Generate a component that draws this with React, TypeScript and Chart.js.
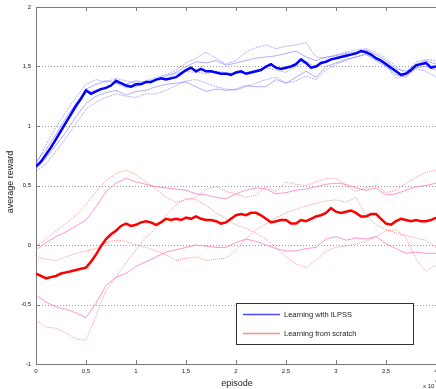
import React, { useEffect, useRef } from 'react';
import { Chart, registerables } from 'chart.js';

Chart.register(...registerables);

// x axis is in units of 10^4 episodes
const MEAN_STEP = 0.05;
const RUN_STEP = 0.1;

const X_TICK_VALUES = [0, 0.5, 1, 1.5, 2, 2.5, 3, 3.5, 4];
const X_TICK_LABELS = ['0', '0,5', '1', '1,5', '2', '2,5', '3', '3,5', '4'];
const Y_TICK_VALUES = [-1, -0.5, 0, 0.5, 1, 1.5, 2];
const Y_TICK_LABELS = ['-1', '-0,5', '0', '0,5', '1', '1,5', '2'];
const Y_GRID_VALUES = [-0.5, 0, 0.5, 1, 1.5];

const SERIES_LABELS = ['Learning with ILPSS', 'Learning from scratch'];

const blueMean = [
  0.66, 0.70, 0.76, 0.82, 0.89, 0.96, 1.03, 1.10, 1.17, 1.23,
  1.30, 1.27, 1.29, 1.31, 1.32, 1.34, 1.38, 1.36, 1.34, 1.33,
  1.35, 1.35, 1.37, 1.37, 1.39, 1.40, 1.39, 1.40, 1.41, 1.44,
  1.47, 1.49, 1.46, 1.48, 1.46, 1.46, 1.45, 1.44, 1.44, 1.43,
  1.45, 1.46, 1.44, 1.45, 1.46, 1.47, 1.50, 1.52, 1.49, 1.48,
  1.49, 1.50, 1.52, 1.56, 1.53, 1.49, 1.50, 1.53, 1.54, 1.56,
  1.57, 1.58, 1.59, 1.60, 1.61, 1.63, 1.62, 1.60, 1.57, 1.55,
  1.52, 1.49, 1.46, 1.43, 1.44, 1.47, 1.51, 1.52, 1.53, 1.49,
  1.50,
];

const redMean = [
  -0.24, -0.26, -0.28, -0.27, -0.26, -0.24, -0.23, -0.22, -0.21, -0.20,
  -0.19, -0.14, -0.08, -0.01, 0.05, 0.09, 0.12, 0.16, 0.18, 0.16,
  0.17, 0.19, 0.20, 0.19, 0.17, 0.19, 0.22, 0.21, 0.22, 0.21,
  0.23, 0.22, 0.24, 0.22, 0.21, 0.21, 0.20, 0.18, 0.19, 0.22,
  0.25, 0.26, 0.25, 0.27, 0.27, 0.25, 0.22, 0.19, 0.20, 0.21,
  0.21, 0.18, 0.18, 0.21, 0.20, 0.22, 0.24, 0.25, 0.27, 0.31,
  0.28, 0.27, 0.28, 0.29, 0.27, 0.24, 0.24, 0.26, 0.26, 0.22,
  0.18, 0.17, 0.20, 0.22, 0.21, 0.20, 0.21, 0.20, 0.20, 0.21,
  0.23,
];

const blueRun1 = [0.68, 0.84, 0.99, 1.12, 1.24, 1.35, 1.39, 1.37, 1.40, 1.38, 1.36, 1.38, 1.41, 1.43, 1.47, 1.53, 1.57, 1.62, 1.57, 1.52, 1.55, 1.62, 1.66, 1.68, 1.65, 1.67, 1.68, 1.70, 1.58, 1.57, 1.60, 1.62, 1.64, 1.65, 1.62, 1.57, 1.50, 1.44, 1.54, 1.56, 1.55];
const blueRun2 = [0.70, 0.80, 0.93, 1.07, 1.19, 1.31, 1.35, 1.38, 1.36, 1.35, 1.38, 1.36, 1.39, 1.42, 1.45, 1.50, 1.54, 1.53, 1.55, 1.51, 1.53, 1.55, 1.57, 1.58, 1.59, 1.61, 1.63, 1.58, 1.55, 1.58, 1.59, 1.61, 1.62, 1.64, 1.60, 1.55, 1.48, 1.46, 1.52, 1.55, 1.52];
const blueRun3 = [0.66, 0.77, 0.90, 1.02, 1.15, 1.28, 1.30, 1.33, 1.36, 1.32, 1.33, 1.37, 1.38, 1.40, 1.44, 1.46, 1.45, 1.44, 1.46, 1.45, 1.44, 1.45, 1.47, 1.49, 1.47, 1.45, 1.50, 1.54, 1.50, 1.54, 1.57, 1.58, 1.61, 1.63, 1.58, 1.52, 1.45, 1.43, 1.50, 1.52, 1.50];
const blueRun4 = [0.64, 0.73, 0.84, 0.95, 1.08, 1.19, 1.25, 1.28, 1.30, 1.26, 1.29, 1.30, 1.33, 1.35, 1.36, 1.37, 1.33, 1.29, 1.31, 1.30, 1.31, 1.34, 1.33, 1.33, 1.39, 1.36, 1.41, 1.46, 1.41, 1.50, 1.53, 1.56, 1.58, 1.60, 1.55, 1.50, 1.43, 1.41, 1.49, 1.50, 1.47];
const blueRun5 = [0.62, 0.68, 0.79, 0.90, 1.02, 1.14, 1.20, 1.24, 1.27, 1.25, 1.24, 1.27, 1.27, 1.30, 1.34, 1.38, 1.39, 1.36, 1.33, 1.31, 1.30, 1.33, 1.36, 1.39, 1.41, 1.36, 1.38, 1.42, 1.39, 1.47, 1.52, 1.55, 1.58, 1.61, 1.56, 1.51, 1.40, 1.43, 1.48, 1.46, 1.41];

const redRun1 = [-0.01, 0.05, 0.12, 0.18, 0.25, 0.34, 0.45, 0.54, 0.60, 0.63, 0.59, 0.53, 0.47, 0.40, 0.36, 0.38, 0.40, 0.47, 0.49, 0.45, 0.43, 0.40, 0.42, 0.49, 0.45, 0.53, 0.51, 0.50, 0.53, 0.56, 0.56, 0.50, 0.45, 0.48, 0.50, 0.44, 0.46, 0.52, 0.57, 0.61, 0.63];
const redRun2 = [-0.04, 0.02, 0.07, 0.11, 0.16, 0.21, 0.32, 0.45, 0.52, 0.56, 0.53, 0.51, 0.49, 0.48, 0.47, 0.46, 0.43, 0.42, 0.40, 0.39, 0.43, 0.46, 0.48, 0.47, 0.43, 0.44, 0.46, 0.47, 0.49, 0.51, 0.52, 0.51, 0.48, 0.46, 0.48, 0.42, 0.43, 0.46, 0.49, 0.50, 0.52];
const redRun3 = [-0.10, -0.12, -0.13, -0.10, -0.07, -0.05, -0.03, 0.02, 0.04, 0.03, 0.00, -0.02, -0.05, -0.08, -0.13, -0.11, -0.10, -0.13, -0.12, -0.11, -0.04, 0.05, 0.13, 0.18, 0.23, 0.27, 0.30, 0.33, 0.35, 0.37, 0.38, 0.36, 0.40, 0.25, 0.17, 0.13, 0.10, 0.08, 0.06, 0.04, -0.02];
const redRun4 = [-0.42, -0.48, -0.52, -0.54, -0.57, -0.61, -0.49, -0.34, -0.27, -0.24, -0.18, -0.14, -0.10, -0.06, -0.04, -0.02, 0.00, -0.01, -0.02, -0.02, 0.02, 0.05, 0.03, 0.00, -0.03, -0.05, -0.05, -0.03, -0.02, 0.05, 0.07, 0.04, 0.06, 0.05, 0.07, 0.01, -0.03, -0.07, -0.06, -0.07, -0.07];
const redRun5 = [-0.63, -0.69, -0.70, -0.74, -0.79, -0.80, -0.60, -0.38, -0.27, -0.15, -0.04, 0.07, 0.14, 0.25, 0.34, 0.39, 0.38, 0.33, 0.27, 0.22, 0.17, 0.14, 0.10, 0.05, -0.02, -0.10, -0.16, -0.19, -0.13, -0.05, -0.02, -0.01, 0.01, 0.03, 0.07, 0.12, 0.13, 0.06, -0.12, -0.22, -0.17];

const FONT = '"Liberation Sans", Arial, sans-serif';
const AXIS_COLOR = '#7a7a7a';
const TEXT_COLOR = '#222';

function toPoints(values: number[], step: number) {
  return values.map((y, i) => ({ x: Math.round(i * step * 1000) / 1000, y }));
}

function labelFor(v: number, values: number[], labels: string[]) {
  const i = values.findIndex((t) => Math.abs(t - v) < 1e-6);
  return i >= 0 ? labels[i] : '';
}

const framePlugin = {
  id: 'matlabFrame',
  beforeDatasetsDraw(chart: any) {
    const { ctx, chartArea: a, scales } = chart;
    const ys = scales.y;
    const xs = scales.x;
    ctx.save();
    ctx.strokeStyle = '#9a9a9a';
    ctx.lineWidth = 1;
    ctx.setLineDash([1, 2]);
    Y_GRID_VALUES.forEach((v) => {
      const py = Math.round(ys.getPixelForValue(v)) + 0.5;
      ctx.beginPath();
      ctx.moveTo(a.left, py);
      ctx.lineTo(a.right, py);
      ctx.stroke();
    });
    ctx.setLineDash([]);
    ctx.strokeStyle = AXIS_COLOR;
    ctx.beginPath();
    ctx.moveTo(a.left + 0.5, a.top + 0.5);
    ctx.lineTo(a.left + 0.5, a.bottom + 0.5);
    ctx.lineTo(a.right, a.bottom + 0.5);
    ctx.moveTo(a.left + 0.5, a.top + 0.5);
    ctx.lineTo(a.right, a.top + 0.5);
    ctx.stroke();
    ctx.beginPath();
    X_TICK_VALUES.forEach((v) => {
      const px = Math.round(xs.getPixelForValue(v)) + 0.5;
      ctx.moveTo(px, a.bottom);
      ctx.lineTo(px, a.bottom - 4);
      ctx.moveTo(px, a.top);
      ctx.lineTo(px, a.top + 4);
    });
    Y_TICK_VALUES.forEach((v) => {
      const py = Math.round(ys.getPixelForValue(v)) + 0.5;
      ctx.moveTo(a.left, py);
      ctx.lineTo(a.left + 4, py);
    });
    ctx.stroke();
    ctx.restore();
  },
  afterDatasetsDraw(chart: any) {
    const { ctx } = chart;
    ctx.save();
    const bx = 236, by = 303, bw = 177, bh = 41;
    ctx.fillStyle = '#fff';
    ctx.fillRect(bx, by, bw, bh);
    ctx.strokeStyle = '#333';
    ctx.lineWidth = 1;
    ctx.strokeRect(bx + 0.5, by + 0.5, bw, bh);
    const legendColors = ['#4b4bff', '#ff8a8a'];
    SERIES_LABELS.forEach((label, i) => {
      const ly = by + 11.5 + i * 19;
      ctx.strokeStyle = legendColors[i];
      ctx.lineWidth = 1.5;
      ctx.beginPath();
      ctx.moveTo(bx + 7, ly);
      ctx.lineTo(bx + 44, ly);
      ctx.stroke();
      ctx.fillStyle = TEXT_COLOR;
      ctx.font = `7.5px ${FONT}`;
      ctx.textAlign = 'left';
      ctx.textBaseline = 'middle';
      ctx.fillText(label, bx + 48, ly);
    });
    ctx.fillStyle = TEXT_COLOR;
    ctx.font = `9px ${FONT}`;
    ctx.textAlign = 'center';
    ctx.textBaseline = 'middle';
    ctx.fillText('episode', 237, 384);
    ctx.save();
    ctx.translate(11, 182);
    ctx.rotate(-Math.PI / 2);
    ctx.fillText('average reward', 0, 0);
    ctx.restore();
    ctx.font = `6px ${FONT}`;
    ctx.textAlign = 'left';
    ctx.fillText('x 10', 423, 386);
    ctx.font = `5px ${FONT}`;
    ctx.fillText('4', 435, 382);
    ctx.restore();
  },
};

export default function App() {
  const ref = useRef<HTMLCanvasElement>(null);
  useEffect(() => {
    if (!ref.current) return;
    const thin = (data: number[], color: string, dash: number[]) => ({
      data: toPoints(data, RUN_STEP),
      borderColor: color,
      borderWidth: 1,
      borderDash: dash,
      pointRadius: 0,
      tension: 0,
      order: 2,
    });
    const blueThin = 'rgba(95,95,255,0.5)';
    const redDotted = 'rgba(255,90,90,0.65)';
    const pink = 'rgba(255,130,200,0.85)';
    const chart = new Chart(ref.current, {
      type: 'line',
      data: {
        datasets: [
          {
            label: SERIES_LABELS[0],
            data: toPoints(blueMean, MEAN_STEP),
            borderColor: '#0000ff',
            borderWidth: 2.5,
            pointRadius: 0,
            tension: 0,
            order: 0,
          },
          {
            label: SERIES_LABELS[1],
            data: toPoints(redMean, MEAN_STEP),
            borderColor: '#ff0000',
            borderWidth: 2.5,
            pointRadius: 0,
            tension: 0,
            order: 0,
          },
          thin(blueRun1, blueThin, [2, 1]),
          thin(blueRun2, blueThin, []),
          thin(blueRun3, blueThin, [2, 1]),
          thin(blueRun4, blueThin, []),
          thin(blueRun5, blueThin, [2, 1]),
          thin(redRun1, redDotted, [1, 1]),
          thin(redRun2, pink, []),
          thin(redRun3, redDotted, [1, 1]),
          thin(redRun4, pink, []),
          thin(redRun5, redDotted, [1, 1]),
        ] as any,
      },
      options: {
        animation: false,
        responsive: false,
        devicePixelRatio: 1,
        layout: { padding: { top: 7, right: 0, left: 0, bottom: 0 } },
        plugins: { legend: { display: false }, tooltip: { enabled: false } },
        scales: {
          x: {
            type: 'linear',
            min: 0,
            max: 4,
            grid: { display: false, drawTicks: false },
            border: { display: false },
            ticks: {
              stepSize: 0.5,
              autoSkip: false,
              maxRotation: 0,
              padding: 4,
              color: TEXT_COLOR,
              font: { size: 6, family: FONT },
              callback: (v: any) => labelFor(Number(v), X_TICK_VALUES, X_TICK_LABELS),
            },
            afterFit: (s: any) => {
              s.height = 25;
              s.paddingLeft = 0;
              s.paddingRight = 0;
            },
          },
          y: {
            type: 'linear',
            min: -1,
            max: 2,
            grid: { display: false, drawTicks: false },
            border: { display: false },
            ticks: {
              stepSize: 0.5,
              padding: 5,
              color: TEXT_COLOR,
              font: { size: 6, family: FONT },
              callback: (v: any) => labelFor(Number(v), Y_TICK_VALUES, Y_TICK_LABELS),
            },
            afterFit: (s: any) => {
              s.width = 36;
              s.paddingTop = 0;
              s.paddingBottom = 0;
            },
          },
        },
      } as any,
      plugins: [framePlugin],
    });
    return () => chart.destroy();
  }, []);
  return (
    <div style={{ position: 'absolute', left: 0, top: 0, width: 436, height: 389, background: '#fff' }}>
      <canvas ref={ref} width={436} height={389} style={{ display: 'block' }} />
    </div>
  );
}
